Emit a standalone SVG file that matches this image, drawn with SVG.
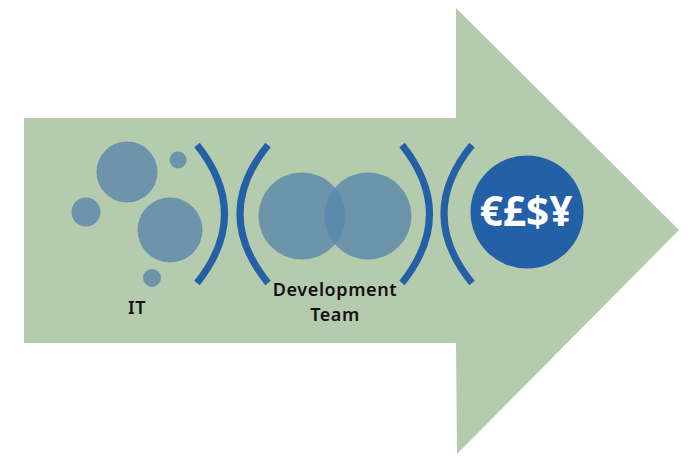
<svg xmlns="http://www.w3.org/2000/svg" width="700" height="464" viewBox="0 0 700 464">
<style>
.bubble{fill:#6d94ab}
.venn{fill:#5a86aa;fill-opacity:.8}
.paren{fill:none;stroke:#2460a6;stroke-width:7}
.label{font-family:"Noto Sans","Open Sans",sans-serif;font-weight:600;font-size:18px;letter-spacing:.6px;fill:#111;text-anchor:middle}
.money{font-family:"Open Sans","Noto Sans",sans-serif;font-weight:700;font-size:40.5px;fill:#fff;text-anchor:middle}
</style>
<rect width="700" height="464" fill="#fff"/>
<g id="arrow"><polygon points="24,118 456,118 456,8 679,230 457,454 456,343 24,343" fill="#b5cbae"/></g>
<g id="it">
<circle class="bubble" cx="127" cy="172" r="30.5"/>
<circle class="bubble" cx="178" cy="160" r="8.5"/>
<circle class="bubble" cx="86" cy="212" r="14.5"/>
<circle class="bubble" cx="170" cy="230" r="32.5"/>
<circle class="bubble" cx="152" cy="278" r="9"/>
<text class="label" x="137" y="314">IT</text>
</g>
<g id="dev">
<circle class="venn" cx="302" cy="216" r="43.5"/>
<circle class="venn" cx="368" cy="216" r="43.5"/>
<text class="label" x="335" y="296">Development</text>
<text class="label" x="335" y="320.5">Team</text>
</g>
<g id="money">
<circle cx="527" cy="212" r="56.5" fill="#2460a6"/>
<text class="money" x="526" y="226">€£$¥</text>
</g>
<g id="connectors">
<path class="paren" d="M197,145 Q252,214 197,283"/>
<path class="paren" d="M268,145 Q212,214 268,283"/>
<path class="paren" d="M402,145 Q457,214 402,283"/>
<path class="paren" d="M472,145 Q416,214 472,283"/>
</g>
</svg>
